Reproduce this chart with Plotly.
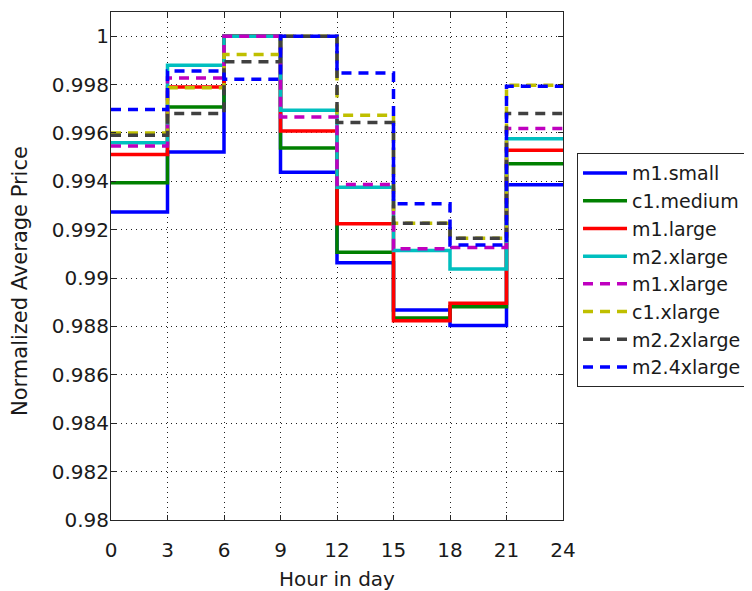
import plotly.graph_objects as go

hours = [0, 3, 6, 9, 12, 15, 18, 21, 24]
names = ["m1.small", "c1.medium", "m1.large", "m2.xlarge",
         "m1.xlarge", "c1.xlarge", "m2.2xlarge", "m2.4xlarge"]

m1_small   = [0.99273, 0.99521, 1.0, 0.99438, 0.99063, 0.98868, 0.98804, 0.99386]
c1_medium  = [0.99394, 0.99707, 1.0, 0.99538, 0.99107, 0.98835, 0.98882, 0.99473]
m1_large   = [0.99511, 0.99790, 1.0, 0.99608, 0.99225, 0.98824, 0.98896, 0.99528]
m2_xlarge  = [0.99560, 0.99880, 1.0, 0.99694, 0.99376, 0.99114, 0.99038, 0.99576]
m1_xlarge  = [0.99546, 0.99827, 1.0, 0.99666, 0.99387, 0.99121, 0.99126, 0.99618]
c1_xlarge  = [0.99600, 0.99787, 0.99924, 1.0, 0.99673, 0.99227, 0.99165, 0.99797]
m2_2xlarge = [0.99590, 0.99680, 0.99894, 1.0, 0.99643, 0.99227, 0.99165, 0.99680]
m2_4xlarge = [0.99697, 0.99856, 0.99822, 1.0, 0.99848, 0.99307, 0.99137, 0.99793]

series = [m1_small, c1_medium, m1_large, m2_xlarge,
          m1_xlarge, c1_xlarge, m2_2xlarge, m2_4xlarge]
colors = ["#0000FF", "#008000", "#FF0000", "#00BFBF",
          "#BF00BF", "#BFBF00", "#404040", "#0000FF"]
dashes = ["solid", "solid", "solid", "solid",
          "10px,7px", "10px,7px", "10px,7px", "10px,7px"]

ytick_vals = [0.98, 0.982, 0.984, 0.986, 0.988, 0.99, 0.992, 0.994, 0.996, 0.998, 1.0]
ytick_text = ["0.98", "0.982", "0.984", "0.986", "0.988", "0.99",
              "0.992", "0.994", "0.996", "0.998", "1"]

fig = go.Figure()
for name, vals, col, dash in zip(names, series, colors, dashes):
    fig.add_trace(go.Scatter(
        x=hours, y=vals + [vals[-1]], mode="lines", name=name,
        line=dict(color=col, width=3.5, dash=dash, shape="hv"),
    ))

font = "DejaVu Sans, Liberation Sans, Arial, sans-serif"
fig.update_layout(
    width=744, height=583,
    margin=dict(l=103, r=189, t=4, b=71, autoexpand=False),
    paper_bgcolor="white", plot_bgcolor="white",
    font=dict(family=font, size=20, color="#1a1a1a"),
    showlegend=True,
    legend=dict(
        x=1.031, xanchor="left", y=0.722, yanchor="top",
        bordercolor="#262626", borderwidth=1, bgcolor="white",
        font=dict(size=19), tracegroupgap=0, itemwidth=44,
    ),
    annotations=[dict(
        text="Normalized Average Price", textangle=-90,
        xref="paper", yref="paper", x=-0.2013, y=0.4705,
        xanchor="center", yanchor="middle", showarrow=False,
        font=dict(size=21),
    )],
)
fig.update_xaxes(
    range=[0, 24], tickvals=hours, ticktext=[str(h) for h in hours],
    showgrid=True, gridcolor="#202020", gridwidth=1, griddash="1px,4px",
    showline=True, linecolor="#262626", linewidth=1, mirror="ticks",
    ticks="inside", ticklen=5, tickcolor="#262626",
    zeroline=False, ticklabelstandoff=12, automargin=False,
    title=dict(text="Hour in day", standoff=12, font=dict(size=20)),
)
fig.update_yaxes(
    range=[0.98, 1.001], tickvals=ytick_vals, ticktext=ytick_text,
    showgrid=True, gridcolor="#202020", gridwidth=1, griddash="1px,4px",
    showline=True, linecolor="#262626", linewidth=1, mirror="ticks",
    ticks="inside", ticklen=5, tickcolor="#262626",
    zeroline=False, ticklabelstandoff=-3, automargin=False,
)

fig.write_html("out.html")
